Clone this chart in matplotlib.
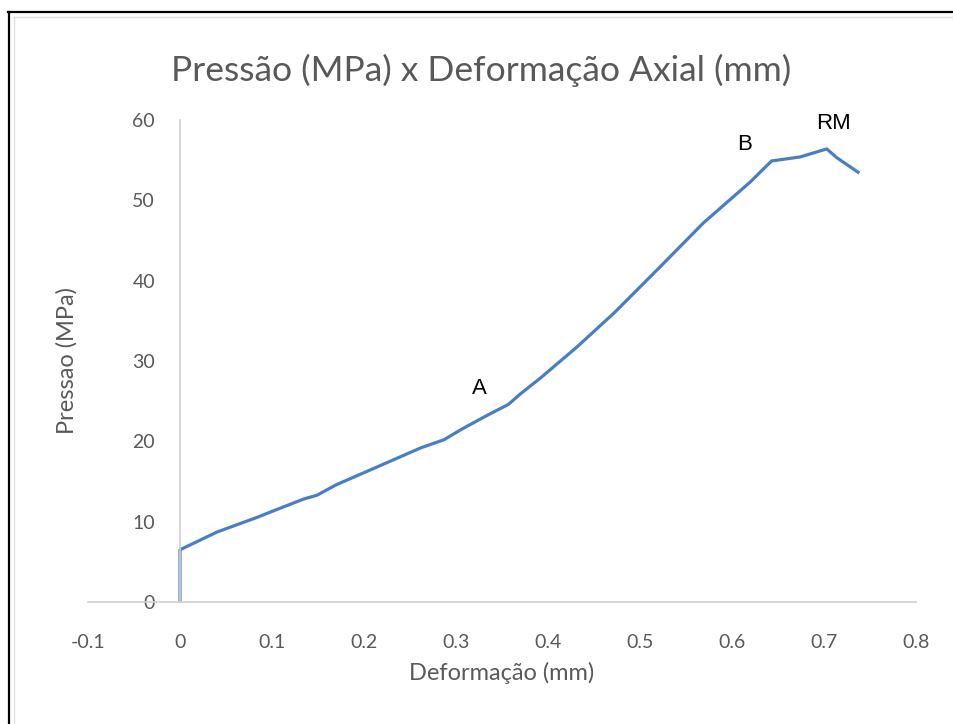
import matplotlib.pyplot as plt
from matplotlib.lines import Line2D

# data
deformacao = [0, 0, 0.04, 0.083, 0.105, 0.134, 0.149, 0.170, 0.214, 0.262, 0.287,
              0.306, 0.335, 0.357, 0.371, 0.392, 0.432, 0.472, 0.526, 0.569, 0.620,
              0.643, 0.674, 0.703, 0.714, 0.737]
pressao = [0, 6.5, 8.7, 10.5, 11.5, 12.8, 13.3, 14.6, 16.8, 19.2, 20.2,
           21.5, 23.3, 24.6, 26.0, 27.9, 31.8, 36.0, 42.2, 47.2, 52.3,
           54.9, 55.4, 56.4, 55.3, 53.5]
x_ticks = [-0.1, 0, 0.1, 0.2, 0.3, 0.4, 0.5, 0.6, 0.7, 0.8]
x_tick_labels = ["-0.1", "0", "0.1", "0.2", "0.3", "0.4", "0.5", "0.6", "0.7", "0.8"]
y_ticks = [0, 10, 20, 30, 40, 50, 60]
pontos = ["A", "B", "RM"]
pontos_x = [0.325, 0.6135, 0.710]
pontos_y = [26.6, 57.0, 59.6]

plt.rcParams['font.family'] = ['Lato', 'DejaVu Sans']
grey = '#595959'

W, H = 954, 724
fig = plt.figure(figsize=(W / 100, H / 100), dpi=100)
ax = fig.add_axes([88 / W, 1 - 602 / H, (916 - 88) / W, (602 - 120) / H])

ax.plot(deformacao, pressao, color='#4A7EC2', lw=2.3, solid_joinstyle='round')

ax.set_xlim(-0.1, 0.8)
ax.set_ylim(0, 60)
ax.set_xticks(x_ticks)
ax.set_xticklabels(x_tick_labels)
ax.set_yticks(y_ticks)

for s in ['top', 'right']:
    ax.spines[s].set_visible(False)
ax.spines['left'].set_position(('data', 0))
ax.spines['left'].set_color('#D0D0D0')
ax.spines['bottom'].set_color('#D0D0D0')
ax.spines['left'].set_linewidth(1.2)
ax.spines['bottom'].set_linewidth(1.2)
ax.tick_params(length=0, labelsize=14, colors=grey)
ax.tick_params(axis='x', pad=23)
ax.tick_params(axis='y', pad=18)

ax.set_xlabel("Deformação (mm)", fontsize=17, color=grey, labelpad=8)
ax.set_ylabel("Pressao (MPa)", fontsize=17, color=grey)
ax.yaxis.set_label_coords((78 - 88) / (916 - 88), 0.5)
ax.set_title("Pressão (MPa) x Deformação Axial (mm)", fontsize=25.5, color=grey,
             pad=28, x=(481 - 88) / (916 - 88))

for nome, px, py in zip(pontos, pontos_x, pontos_y):
    ax.text(px, py, nome, fontsize=16, color='black', ha='center', va='center',
            family='Liberation Sans')

# frame of the screenshot
fig.add_artist(Line2D([8 / W, 1], [1 - 11.5 / H, 1 - 11.5 / H], color='black', lw=1.6))
fig.add_artist(Line2D([9 / W, 9 / W], [0, 1 - 11.5 / H], color='black', lw=1.6))
fig.add_artist(Line2D([13 / W, 1], [1 - 17 / H, 1 - 17 / H], color='#E0E0E0', lw=1))
fig.add_artist(Line2D([14 / W, 14 / W], [0, 1 - 17 / H], color='#E0E0E0', lw=1))

plt.savefig("out.png", dpi=100)
